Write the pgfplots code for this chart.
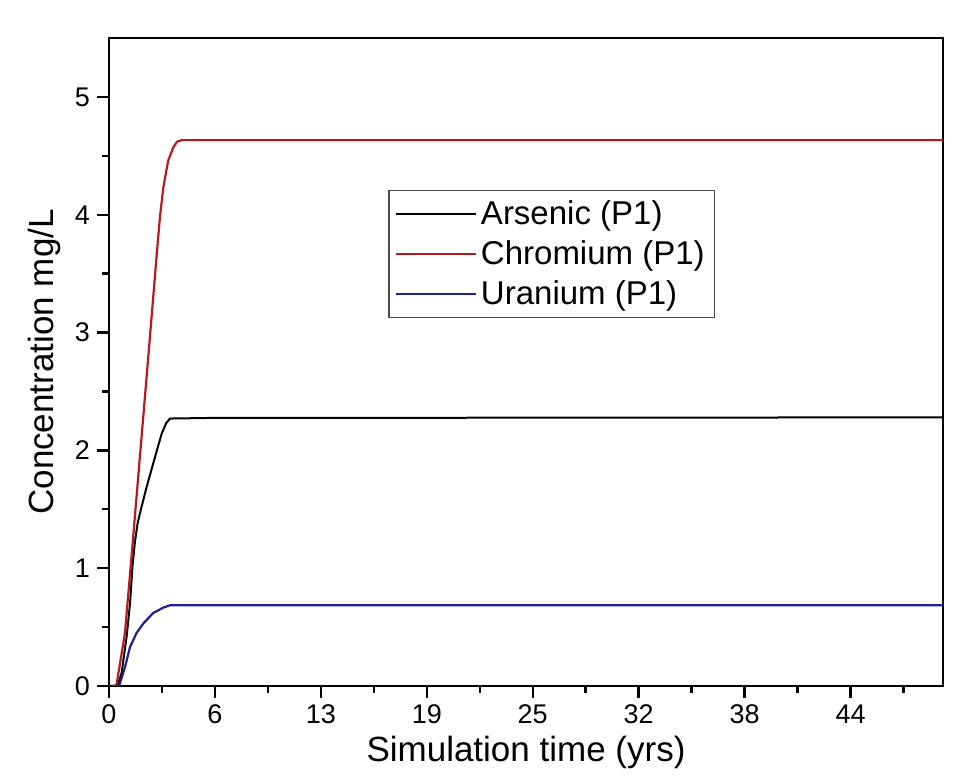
\documentclass[border=0pt]{standalone}
\usepackage{fontspec}
\setmainfont{Liberation Sans}
\usepackage{pgfplots}
\pgfplotsset{compat=1.18}
\usepackage{pgfplotstable}
\definecolor{crred}{RGB}{185,25,30}
\definecolor{ublue}{RGB}{30,30,150}

\pgfplotstableread{
x y
0 0
0.40 0
0.46 0.02
0.95 0.45
1.40 1.20
1.84 1.95
2.34 2.80
2.63 3.30
2.83 3.65
3.03 3.98
3.23 4.23
3.52 4.46
3.82 4.57
4.05 4.62
4.32 4.633
49.6 4.633
}\chromium

\pgfplotstableread{
x y
0 0
0.50 0
0.75 0.11
1.05 0.42
1.25 0.70
1.40 1.02
1.54 1.22
1.70 1.38
1.90 1.50
2.24 1.69
2.73 1.94
3.13 2.14
3.40 2.23
3.62 2.27
6.0 2.275
49.6 2.28
}\arsenic

\pgfplotstableread{
x y
0 0
0.60 0
0.95 0.16
1.25 0.33
1.64 0.45
2.04 0.53
2.63 0.62
3.23 0.665
3.62 0.685
49.6 0.685
}\uranium

\begin{document}
\begin{tikzpicture}
\useasboundingbox (-54.5pt,-47pt) rectangle (431pt,343pt);
\begin{axis}[
  scale only axis,
  width=417pt, height=324pt,
  xmin=0, xmax=49.6,
  ymin=0, ymax=5.5,
  axis line style={line width=1.2pt},
  xtick={0,6.3,12.6,18.9,25.2,31.5,37.8,44.1},
  xticklabels={0,6,13,19,25,32,38,44},
  minor xtick={3.15,9.45,15.75,22.05,28.35,34.65,40.95,47.25},
  ytick={0,1,2,3,4,5},
  minor ytick={0.5,1.5,2.5,3.5,4.5},
  tick align=outside,
  xtick pos=bottom, ytick pos=left,
  major tick length=6pt, minor tick length=3.5pt,
  every tick/.style={line width=1.2pt, black},
  tick label style={font=\fontsize{13.5}{16}\selectfont},
  /pgf/number format/assume math mode=true,
  xlabel={Simulation time (yrs)},
  ylabel={Concentration mg/L},
  label style={font=\fontsize{17.5}{20}\selectfont},
  xlabel style={yshift=1pt},
  ylabel style={yshift=0pt},
  legend style={at={(0.335,0.765)}, anchor=north west, draw=black!70, line width=0.6pt,
    font=\fontsize{16.5}{20}\selectfont, row sep=2.5pt, inner xsep=3pt, inner ysep=3pt,
    cells={anchor=west}},
  legend image code/.code={\draw[#1, line width=1pt] (0pt,0pt) -- (40pt,0pt);},
  legend cell align=left,
]
\addplot[black, line width=1pt] table[x=x,y=y] {\arsenic};
\addlegendentry{Arsenic (P1)}
\addplot[crred, line width=1.1pt] table[x=x,y=y] {\chromium};
\addlegendentry{Chromium (P1)}
\addplot[ublue, line width=1.1pt] table[x=x,y=y] {\uranium};
\addlegendentry{Uranium (P1)}
\end{axis}
\end{tikzpicture}
\end{document}
